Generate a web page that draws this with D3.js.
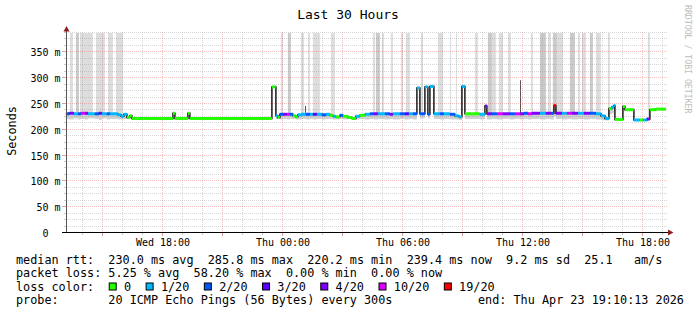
<!DOCTYPE html>
<html><head><meta charset="utf-8">
<script src="https://cdn.jsdelivr.net/npm/d3@7"></script>
<style>
body{margin:0;background:#fff}
svg{display:block}
text{font-family:"DejaVu Sans Mono",monospace;white-space:pre}
</style>
</head><body>
<svg id="c" width="697" height="315"></svg>
<script>
// ---------------- DATA ----------------
const startTime = "2026-04-22T13:10:13";
const endTime   = "2026-04-23T19:10:13";

const lossLabels = ["0","1/20","2/20","3/20","4/20","10/20","19/20"];
const lossColors = ["#26ff00","#00b8ff","#0059ff","#5e00ff","#7e00ff","#dd00ff","#ff0000"];

// median rtt segments (hours since start), value in ms, loss level index, smoke minimum
const medStart = [0,0.15,0.4,0.6,0.75,0.95,1.1,1.45,1.65,1.8,2.05,2.2,2.6,2.75,2.9,3.05,3.2,3.3,5.35,5.45,6.1,6.2,
  10.3,10.45,10.5,10.6,10.7,10.85,11.05,11.2,11.35,11.5,11.6,11.8,12.0,12.2,12.35,12.55,12.8,13.0,13.2,13.35,13.5,13.7,13.85,14.1,14.3,14.5,14.7,14.95,
  15.2,15.4,15.6,15.95,16.2,16.35,16.7,16.95,17.15,17.35,17.55,17.7,17.95,18.1,18.2,18.4,18.7,18.9,19.2,19.45,19.65,19.8,19.95,20.7,20.95,21.05,
  21.3,21.55,21.85,22.2,22.45,22.7,22.9,23.1,23.3,23.7,24.0,24.25,24.4,24.5,24.8,25.05,25.3,25.6,25.9,26.2,26.5,26.75,26.95,27.15,27.3,27.4,27.45,
  27.85,27.95,28.4,28.7,28.85,29.05,29.2,29.5];
const medValue = [231,232,231,231,232,232,231,231,232,231,231,231,229,226,230,224,227,222,232,222,232,222,
  283,283,227,224,230,230,230,230,227,225,229,230,230,230,230,230,229,230,228,226,225,228,226,224,222,226,228,230,
  231,231,231,231,230,231,231,231,231,231,281,231,283,230,284,231,231,231,230,227,225,284,231,230,246,231,
  231,231,231,231,231,231,232,231,232,232,232,232,247,232,232,232,232,232,232,232,231,227,222,241,244,247,220,
  245,239,219,219,219,221,239,240];
const medLoss = [2,4,1,2,5,4,1,2,4,1,2,1,1,1,1,0,0,0,0,0,0,0,
  0,1,1,0,2,4,5,2,0,0,1,1,2,1,3,1,2,1,0,1,0,2,0,0,0,1,0,1,
  2,4,1,2,4,1,2,3,1,2,1,2,1,2,1,1,2,1,2,1,1,1,0,1,4,4,
  2,5,4,2,5,4,2,5,4,1,4,2,6,4,1,5,4,1,4,2,1,1,1,0,1,1,0,
  0,0,1,0,1,4,0,0];
const medLow = [221,220,222,220,221,220,222,221,219,222,220,221,220,220,221,222,223,222,232,222,232,222,
  283,283,221,221,220,221,220,221,221,220,220,221,220,221,220,221,220,221,221,220,220,221,220,221,220,220,221,220,
  221,220,221,220,221,220,221,220,221,220,281,222,283,222,284,221,220,221,220,220,219,284,221,220,246,220,
  221,220,221,220,221,220,221,220,221,220,221,220,247,221,220,221,220,221,220,221,220,219,218,230,232,240,219,
  238,236,217,218,217,218,236,238];

// periods with high outlier pings (smoke reaching the top), hours since start; level 1 = few, 2 = more
const barStart = [0.2,0.5,0.7,1.5,2.1,2.5,10.75,11.1,11.75,12.1,12.35,13.25,15.35,15.5,15.8,16.25,16.75,17.0,17.75,18.6,19.2,19.5,
  20.45,21.1,21.3,21.65,22.1,23.25,23.7,24.1,24.35,24.55,25.2,25.6,25.8,26.2,26.5,27.1,29.1];
const barEnd   = [0.35,0.65,1.35,1.95,2.35,2.85,10.85,11.25,11.9,12.2,12.7,13.45,15.45,15.7,15.9,16.35,16.85,17.2,17.85,18.85,19.25,19.55,
  20.6,21.3,21.5,21.85,22.25,23.35,24.0,24.25,24.55,24.85,25.45,25.7,26.0,26.35,26.75,27.2,29.2];
const barLevel = [1,2,1,1,1,1,1,2,1,1,1,1,1,2,1,1,1,1,1,1,1,1,
  1,2,1,1,1,1,2,1,2,1,2,1,1,2,1,1,1];

// single dark smoke stalks
const stalkTime = [11.95,22.72];
const stalkTop  = [246,296];

const yTicks = [0,50,100,150,200,250,300,350];
const yTickLabels = ["0  ","50 m","100 m","150 m","200 m","250 m","300 m","350 m"];
const xTickTimes = ["2026-04-22T18:00:00","2026-04-23T00:00:00","2026-04-23T06:00:00","2026-04-23T12:00:00","2026-04-23T18:00:00"];
const xTickLabels = ["Wed 18:00","Thu 00:00","Thu 06:00","Thu 12:00","Thu 18:00"];

const titleText = "Last 30 Hours";
const yTitle = "Seconds";
const statLines = [
  "median rtt:  230.0 ms avg  285.8 ms max  220.2 ms min  239.4 ms now  9.2 ms sd  25.1   am/s",
  "packet loss: 5.25 % avg  58.20 % max  0.00 % min  0.00 % now",
  "loss color:",
  "probe:       20 ICMP Echo Pings (56 Bytes) every 300s"
];
const endText = "end: Thu Apr 23 19:10:13 2026";
const watermark = "RRDTOOL / TOBI OETIKER";

// ---------------- DRAW ----------------
const svg = d3.select("#c");
svg.append("rect").attr("width",697).attr("height",315).attr("fill","#fff");

const t0 = new Date(startTime), t1 = new Date(endTime);
const hd = h => new Date(t0.getTime() + h*3600e3);
const x = d3.scaleTime().domain([t0,t1]).range([65.9,665.9]);
const y = d3.scaleLinear().domain([0,387.5]).range([233,33]);
const px = d => Math.round(x(d)) + 0.5;
const py = v => Math.round(y(v)) - 0.5;
const yTop = 33;

// smoke bars to top
const bars = barStart.map((s,i)=>({s,e:barEnd[i],l:barLevel[i]}));
const shade = d3.scaleOrdinal().domain([1,2]).range(["#dddddd","#cacaca"]);
svg.append("g").selectAll("rect").data(bars).join("rect")
  .attr("x",d=>x(hd(d.s))).attr("width",d=>x(hd(d.e))-x(hd(d.s)))
  .attr("y",yTop).attr("height",d=>y(226)-yTop)
  .attr("fill",d=>shade(d.l));

// segments
const segs = medStart.map((s,i)=>({s, e: i+1<medStart.length?medStart[i+1]:30, v:medValue[i], l:medLoss[i], lo:medLow[i]}));
svg.append("g").selectAll("rect").data(segs.filter(d=>d.lo<d.v)).join("rect")
  .attr("x",d=>x(hd(d.s))).attr("width",d=>x(hd(d.e))-x(hd(d.s)))
  .attr("y",d=>y(d.v)).attr("height",d=>y(d.lo)-y(d.v))
  .attr("fill","#cfcfcf");

// stalks
svg.append("g").selectAll("line").data(stalkTime.map((t,i)=>({t,top:stalkTop[i]}))).join("line")
  .attr("x1",d=>px(hd(d.t))).attr("x2",d=>px(hd(d.t)))
  .attr("y1",y(228)).attr("y2",d=>y(d.top))
  .attr("stroke","#555").attr("stroke-width",1);

// grid
const g = svg.append("g");
const minorY = d3.range(0,388,12.5).filter(v=>v%50!==0);
const majorY = d3.range(50,388,50);
const hours = d3.timeHour.every(1).range(t0,t1);
const minorX = hours.filter(d=>d.getHours()%3!==0);
const majorX = hours.filter(d=>d.getHours()%3===0);
const gridMinor = "rgba(150,150,150,0.38)", gridMajor = "rgba(225,90,90,0.38)";
g.selectAll(".hm").data(minorY).join("line")
  .attr("x1",66).attr("x2",667).attr("y1",py).attr("y2",py)
  .attr("stroke",gridMinor).attr("stroke-dasharray","1,1");
g.selectAll(".vm").data(minorX).join("line")
  .attr("x1",px).attr("x2",px).attr("y1",yTop-1).attr("y2",233)
  .attr("stroke",gridMinor).attr("stroke-dasharray","1,1");
g.selectAll(".hM").data(majorY).join("line")
  .attr("x1",66).attr("x2",667).attr("y1",py).attr("y2",py)
  .attr("stroke",gridMajor).attr("stroke-dasharray","1,1");
g.selectAll(".vM").data(majorX).join("line")
  .attr("x1",px).attr("x2",px).attr("y1",yTop-1).attr("y2",233)
  .attr("stroke",gridMajor).attr("stroke-dasharray","1,1");

// median black step line
const pts = segs.map(d=>[hd(d.s),d.v]).concat([[hd(30),segs[segs.length-1].v]]);
svg.append("path").datum(pts)
  .attr("d",d3.line().x(d=>x(d[0])).y(d=>y(d[1])).curve(d3.curveStepAfter))
  .attr("fill","none").attr("stroke","#1a1a1a").attr("stroke-width",1.5);
// colored median
svg.append("g").selectAll("line").data(segs).join("line")
  .attr("x1",d=>x(hd(d.s))).attr("x2",d=>x(hd(d.e)))
  .attr("y1",d=>y(d.v)).attr("y2",d=>y(d.v))
  .attr("stroke",d=>lossColors[d.l]).attr("stroke-width",3);

// axes
const axisX = svg.append("g").attr("transform","translate(0,232.5)")
  .call(d3.axisBottom(x).tickValues(xTickTimes.map(s=>new Date(s))).tickFormat((d,i)=>xTickLabels[i]).tickSize(0));
axisX.select(".domain").remove();
axisX.selectAll("text").attr("y",13).attr("dy",0).attr("font-size","10px")
  .attr("font-family","DejaVu Sans Mono").attr("fill","#000");

const axisY = svg.append("g").attr("transform","translate(60.5,0)")
  .call(d3.axisLeft(y).tickValues(yTicks).tickFormat((d,i)=>yTickLabels[i]).tickSize(0).tickPadding(0));
axisY.select(".domain").remove();
axisY.selectAll(".tick").attr("transform",d=>`translate(0,${py(d)})`);
axisY.selectAll("text").attr("x",0).attr("dy",0).attr("y",4).attr("font-size","10px")
  .attr("font-family","DejaVu Sans Mono").attr("fill","#000").style("white-space","pre");

// ticks
svg.append("g").selectAll("line").data(majorY.concat([0])).join("line")
  .attr("x1",62).attr("x2",66).attr("y1",py).attr("y2",py).attr("stroke","#e0a0a0");
svg.append("g").selectAll("line").data(minorY).join("line")
  .attr("x1",64).attr("x2",66).attr("y1",py).attr("y2",py).attr("stroke","#ccc");
svg.append("g").selectAll("line").data(majorX).join("line")
  .attr("x1",px).attr("x2",px).attr("y1",233).attr("y2",236).attr("stroke","#e0a0a0");
svg.append("g").selectAll("line").data(minorX).join("line")
  .attr("x1",px).attr("x2",px).attr("y1",233).attr("y2",235).attr("stroke","#ccc");

// axis lines + arrows
svg.append("line").attr("x1",66.5).attr("x2",66.5).attr("y1",233).attr("y2",30).attr("stroke","#555");
svg.append("line").attr("x1",62).attr("x2",669).attr("y1",232.5).attr("y2",232.5).attr("stroke","#000");
svg.append("path").attr("d","M63.5,31.5L69.5,31.5L66.5,26Z").attr("fill","#8e1c1c");
svg.append("path").attr("d","M668,229.5L668,235.5L673.5,232.5Z").attr("fill","#8e1c1c");

// title
svg.append("text").attr("x",348).attr("y",18.5).attr("text-anchor","middle")
  .attr("font-size","13px").text(titleText);
// y title
svg.append("text").attr("transform","translate(15.5,131) rotate(-90)").attr("text-anchor","middle")
  .attr("font-size","11.8px").text(yTitle);
// watermark
svg.append("text").attr("transform","translate(684.5,5) rotate(90)")
  .attr("font-size","8.2px").attr("fill","#bdbdbd").text(watermark);

// stats
const baselines = [263.5,277,290.5,304];
svg.append("g").selectAll("text").data(statLines).join("text")
  .attr("x",16).attr("y",(d,i)=>baselines[i]).attr("font-size","11.8px").text(d=>d);
svg.append("text").attr("x",478).attr("y",baselines[3]).attr("font-size","11.8px").text(endText);

// loss color legend
let lx = 108.7;
lossLabels.forEach((lab,i)=>{
  svg.append("rect").attr("x",lx+0.5).attr("y",283).attr("width",7).attr("height",7)
    .attr("fill",lossColors[i]).attr("stroke","#000").attr("stroke-width",1);
  const t = svg.append("text").attr("x",lx+15.3).attr("y",baselines[2]).attr("font-size","11.8px").text(lab);
  lx = lx + 15.3 + t.node().getComputedTextLength() + 14.5;
});
</script>
</body></html>
